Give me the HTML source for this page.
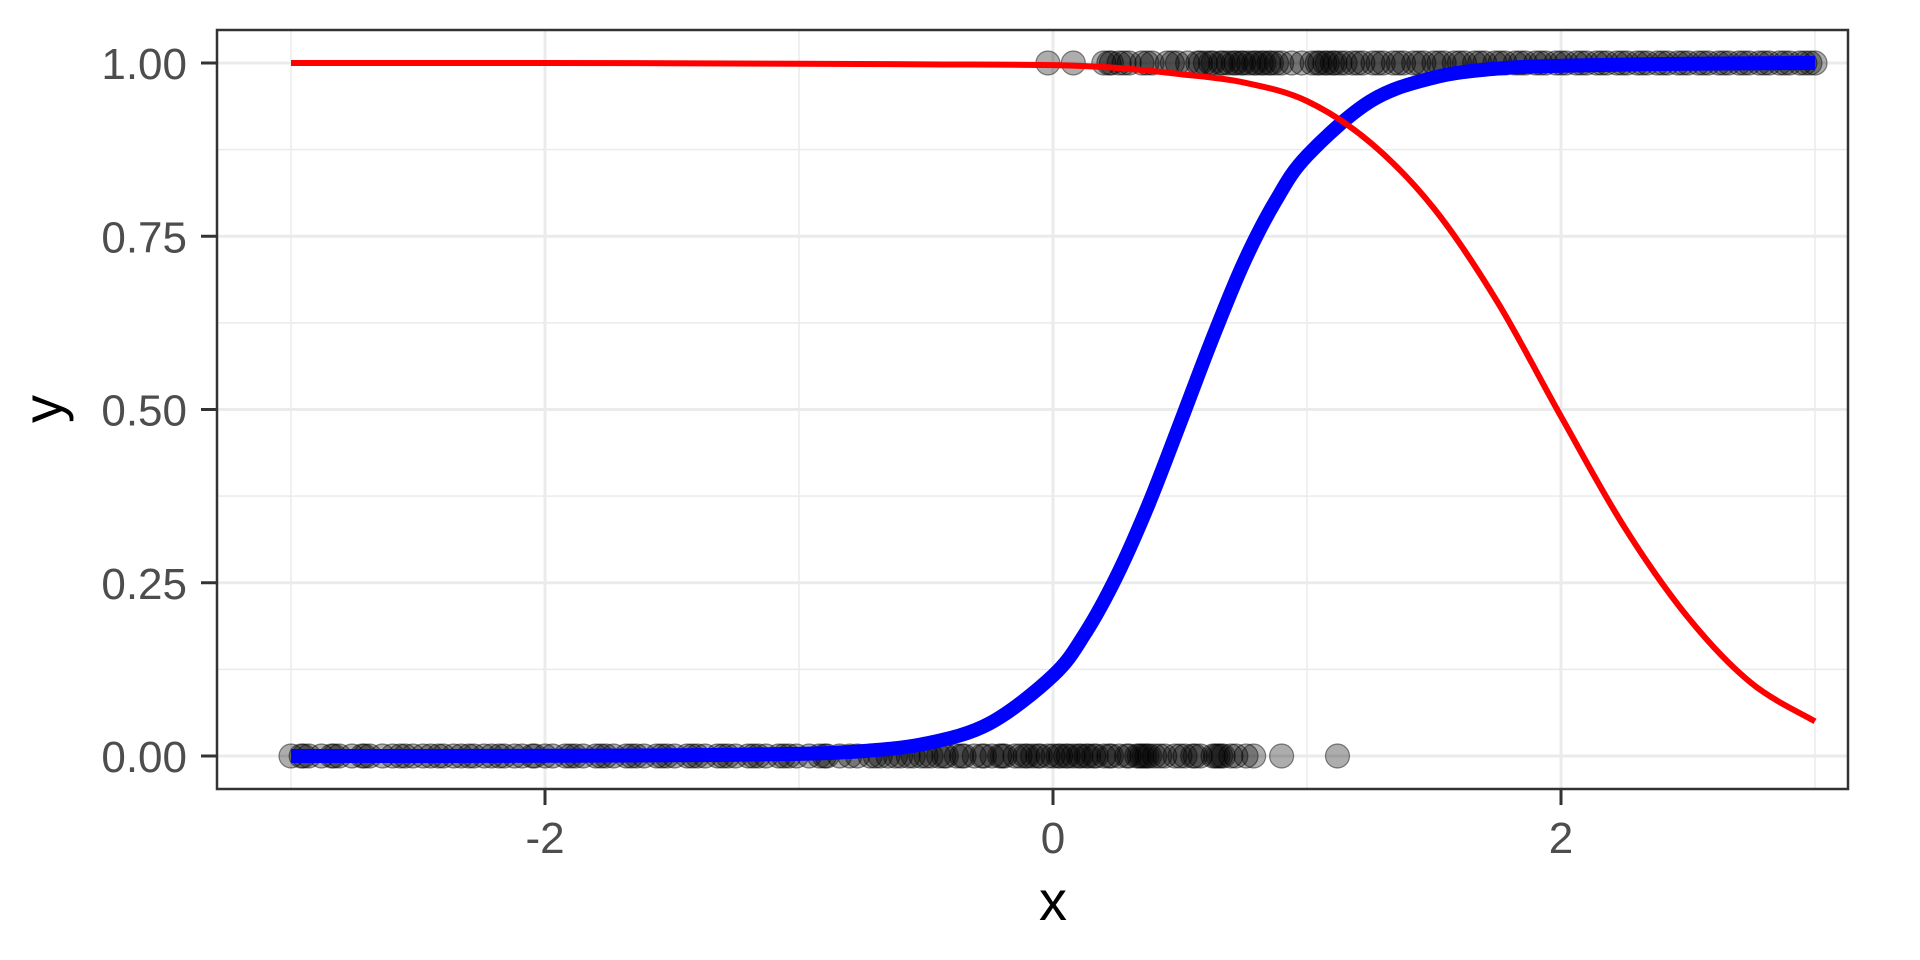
<!DOCTYPE html>
<html><head><meta charset="utf-8"><style>
html,body{margin:0;padding:0;background:#fff;}
svg{display:block;font-family:"Liberation Sans",sans-serif;}
</style></head><body>
<svg id="chart" width="1920" height="960" xmlns="http://www.w3.org/2000/svg">
<rect x="0" y="0" width="1920" height="960" fill="#fff"/>
<g id="grid"></g>
<g id="points"></g>
<g id="lines"></g>
<rect x="217" y="30" width="1631" height="759" fill="none" stroke="#333" stroke-width="2.5"/>
<g id="axes"></g>
<text x="1053" y="920" font-size="56" text-anchor="middle" fill="#000">x</text>
<text x="0" y="0" font-size="56" text-anchor="middle" fill="#000" transform="translate(62,409) rotate(-90)">y</text>
</svg>
<script>
const xTicks = [-2, 0, 2];
const xTickLabels = ["-2", "0", "2"];
const xMinor = [-3, -1, 1, 3];
const yTicks = [0, 0.25, 0.5, 0.75, 1];
const yTickLabels = ["0.00", "0.25", "0.50", "0.75", "1.00"];
const yMinor = [0.125, 0.375, 0.625, 0.875];

const blueX = [-3,-2.5,-2,-1.5,-1,-0.75,-0.5,-0.25,0,0.125,0.25,0.375,0.5,0.625,0.75,0.875,1,1.25,1.5,1.75,2,2.5,3];
const blueY = [0,0,0.0003,0.001,0.003,0.007,0.018,0.047,0.116,0.176,0.259,0.362,0.48,0.6,0.711,0.8,0.866,0.945,0.979,0.992,0.996,0.999,1.0];
const redX = [-3,-2,-1,-0.5,0,0.25,0.5,0.75,1,1.25,1.5,1.75,2,2.25,2.5,2.75,3];
const redY = [1,1,0.999,0.998,0.997,0.993,0.984,0.972,0.945,0.885,0.79,0.655,0.49,0.33,0.2,0.105,0.05];

const zeroX = [-3.0,-2.96,-2.93,-2.88,-2.84,-2.81,-2.76,-2.72,-2.69,-2.64,-2.6,-2.57,-2.52,-2.48,-2.45,-2.4,-2.36,-2.33,-2.28,-2.24,-2.21,-2.16,-2.12,-2.09,-2.04,-2.0,-1.97,-1.92,-1.88,-1.85,-1.8,-1.76,-1.73,-1.68,-1.64,-1.61,-1.56,-1.52,-1.49,-1.44,-1.4,-1.37,-1.32,-1.28,-1.25,-1.2,-1.16,-1.13,-1.08,-1.04,-1.01,-0.96,-0.92,-0.89,-0.84,-0.8,-0.77,-0.72,-0.68,-0.65,-0.6,-0.57,-0.55,-0.52,-0.48,-0.45,-0.42,-0.38,-0.35,-0.31,-0.27,-0.24,-0.21,-0.19,-0.15,-0.11,-0.08,-0.05,-0.02,0.02,0.05,0.08,0.11,0.14,0.17,0.2,0.23,0.26,0.3,0.33,0.35,0.37,0.4,0.44,0.48,0.52,0.55,0.58,0.63,0.66,0.7,0.72,0.76,0.79,0.9,1.12,
  -2.95,-2.83,-2.71,-2.55,-2.42,-2.3,-2.18,-2.05,-1.9,-1.78,-1.66,-1.54,-1.42,-1.3,-1.18,-1.06,-0.9,-0.7,-0.62,-0.5,-0.43,-0.36,-0.28,-0.2,-0.13,-0.1,-0.06,0.0,0.03,0.06,0.1,0.13,0.16,0.22,0.29,0.34,0.36,0.38,0.42,0.5,0.56,0.64,0.65,0.67];
const oneX = [-0.02,0.08,0.2,0.23,0.26,0.3,0.35,0.39,0.45,0.49,0.53,0.58,0.6,0.63,0.67,0.72,0.74,0.77,0.8,0.83,0.86,0.9,0.94,0.98,1.02,1.05,1.08,1.11,1.15,1.18,1.22,1.26,1.3,1.34,1.38,1.42,1.46,1.5,1.54,1.58,1.62,1.66,1.7,1.74,1.78,1.82,1.86,1.9,1.94,1.98,2.02,2.06,2.1,2.14,2.18,2.22,2.26,2.3,2.34,2.38,2.42,2.46,2.5,2.54,2.58,2.62,2.66,2.7,2.74,2.78,2.82,2.86,2.9,2.94,2.98,3.0,
  0.22,0.28,0.37,0.47,0.57,0.62,0.66,0.69,0.71,0.75,0.79,0.82,0.85,0.88,1.04,1.07,1.1,1.13,1.2,1.28,1.36,1.44,1.52,1.6,1.68,1.76,1.84,1.92,2.0,2.08,2.16,2.24,2.32,2.4,2.48,2.56,2.64,2.72,2.8,2.88,2.96];

const NS = "http://www.w3.org/2000/svg";
const L = 217, R = 1848, T = 30, B = 789;
function sx(v){ return 1053 + v * 254; }
function sy(v){ return 756 - v * 693; }
function mk(tag, parent, attrs){
  const e = document.createElementNS(NS, tag);
  for (const k in attrs) e.setAttribute(k, attrs[k]);
  parent.appendChild(e);
  return e;
}
const grid = document.getElementById('grid');
xMinor.forEach(v => {
  const e = mk('line', grid, {x1:sx(v), x2:sx(v), y1:T, y2:B, stroke:'#ebebeb', 'stroke-width':1.5});
  
  
});
yMinor.forEach(v => {
  const e = mk('line', grid, {x1:L, x2:R, y1:sy(v), y2:sy(v), stroke:'#ebebeb', 'stroke-width':1.5});
  
  
});
xTicks.forEach(v => {
  const e = mk('line', grid, {x1:sx(v), x2:sx(v), y1:T, y2:B, stroke:'#ebebeb', 'stroke-width':3});
  
  
});
yTicks.forEach(v => {
  const e = mk('line', grid, {x1:L, x2:R, y1:sy(v), y2:sy(v), stroke:'#ebebeb', 'stroke-width':3});
  
  
});

const pts = document.getElementById('points');
zeroX.forEach(v => {
  const c = mk('circle', pts, {cx:sx(v), cy:sy(0), r:12, fill:'rgba(0,0,0,0.32)', stroke:'rgba(0,0,0,0.45)', 'stroke-width':1.2});
  
  
});
oneX.forEach(v => {
  const c = mk('circle', pts, {cx:sx(v), cy:sy(1), r:12, fill:'rgba(0,0,0,0.32)', stroke:'rgba(0,0,0,0.45)', 'stroke-width':1.2});
  
  
});

function pathFor(xs, ys){
  const p = xs.map((x,i)=>[sx(x), sy(ys[i])]);
  let d = 'M' + p[0][0] + ',' + p[0][1];
  for (let i=0;i<p.length-1;i++){
    const p0 = p[Math.max(0,i-1)], p1 = p[i], p2 = p[i+1], p3 = p[Math.min(p.length-1,i+2)];
    const c1x = p1[0] + (p2[0]-p0[0])/6, c1y = p1[1] + (p2[1]-p0[1])/6;
    const c2x = p2[0] - (p3[0]-p1[0])/6, c2y = p2[1] - (p3[1]-p1[1])/6;
    d += ' C' + c1x + ',' + c1y + ' ' + c2x + ',' + c2y + ' ' + p2[0] + ',' + p2[1];
  }
  return d;
}
const lines = document.getElementById('lines');
const blue = mk('path', lines, {d:pathFor(blueX, blueY), fill:'none', stroke:'#0000ff', 'stroke-width':14});


const red = mk('path', lines, {d:pathFor(redX, redY), fill:'none', stroke:'#ff0000', 'stroke-width':6});



const axes = document.getElementById('axes');
xTicks.forEach((v,i) => {
  const t = mk('line', axes, {x1:sx(v), x2:sx(v), y1:B, y2:B+16, stroke:'#333', 'stroke-width':3});
  
  
  const l = mk('text', axes, {x:sx(v), y:853, 'font-size':44, 'text-anchor':'middle', fill:'#4d4d4d'});
  l.textContent = xTickLabels[i];
  
  
});
yTicks.forEach((v,i) => {
  const t = mk('line', axes, {x1:L-16, x2:L, y1:sy(v), y2:sy(v), stroke:'#333', 'stroke-width':3});
  
  
  const l = mk('text', axes, {x:187, y:sy(v)+16, 'font-size':44, 'text-anchor':'end', fill:'#4d4d4d'});
  l.textContent = yTickLabels[i];
  
  
});
</script>
</body></html>
